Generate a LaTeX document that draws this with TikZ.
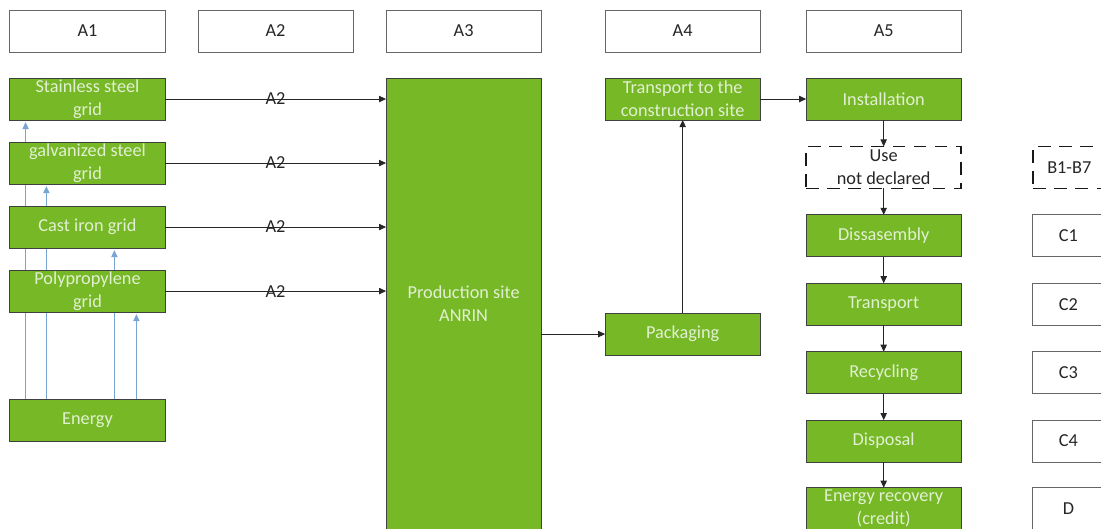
\documentclass[tikz,border=0pt]{standalone}
\usepackage{fontspec}
\setmainfont{Carlito}
\usepackage{tikz}
\usetikzlibrary{
	positioning,
	arrows.meta,
	backgrounds
}
\definecolor{stagegreen}{RGB}{118,184,38}
\definecolor{stagetext}{RGB}{226,240,210}
\definecolor{feedblue}{RGB}{120,165,210}
\tikzset{
	every node/.style={
		font=\fontsize{13}{16.3}\selectfont,
		text=black!85
	},
	stage/.style={
		draw=black!75,fill=stagegreen,text=stagetext,
		minimum width=3.875cm,minimum height=1.05cm,
		inner sep=0pt,outer sep=0pt,align=center,line width=0.7pt
	},
	module/.style={
		draw=black!60,fill=white,
		minimum width=3.875cm,minimum height=1.05cm,
		inner sep=0pt,outer sep=0pt,align=center,line width=0.7pt
	},
	undeclared/.style={
		module,draw=black!90,line width=1.2pt,
		dash pattern=on 9pt off 6pt
	},
	every edge/.append style={
		-{Triangle[length=5pt,width=4.5pt]},
		draw=black!85,line width=0.6pt
	},
	feed/.style={
		draw=feedblue,line width=0.8pt,shorten >=1.5pt
	}
}

\begin{document}
\begin{tikzpicture}[x=0.025cm,y=-0.025cm]
	\useasboundingbox (0,0) rectangle (1101,528);
	\clip (0,0) rectangle (1101,528);
	\draw
		node[module]                     (A1) at (87.5,31) {A1}
		node[module,right=0.825cm of A1] (A2) {A2}
		node[module,right=0.825cm of A2] (A3) {A3}
		node[module,right=1.6cm of A3]   (A4) {A4}
		node[module,right=1.15cm of A4]  (A5) {A5}

		node[stage,below=0.65cm of A1]   (ss) {Stainless steel\\grid}
		node[stage,below=0.55cm of ss]   (gs) {galvanized steel\\grid}
		node[stage,below=0.55cm of gs]   (ci) {Cast iron grid}
		node[stage,below=0.55cm of ci]   (pp) {Polypropylene\\grid}
		node[stage,below=2.175cm of pp]  (en) {Energy}

		node[stage,below=0.65cm of A3,minimum height=11.3cm] (prod) {Production site\\ANRIN}

		node[stage,below=0.65cm of A4]    (site) {Transport to the\\construction site}
		node[stage,below=4.825cm of site] (pack) {Packaging}

		node[stage,below=0.65cm of A5]      (inst) {Installation}
		node[undeclared,below=0.66cm of inst] (use) {Use\\not declared}
		node[stage,below=0.66cm of use]     (dis) {Dissasembly}
		node[stage,below=0.66cm of dis]     (trans) {Transport}
		node[stage,below=0.66cm of trans]   (rec) {Recycling}
		node[stage,below=0.66cm of rec]     (disp) {Disposal}
		node[stage,below=0.64cm of disp]    (erec) {Energy recovery\\(credit)}

		node[undeclared,right=1.8cm of use,minimum width=1.8cm] (B) {B1-B7}
		node[module,right=1.78cm of dis,minimum width=1.8cm]    (C1) {C1}
		node[module,right=1.78cm of trans,minimum width=1.8cm]  (C2) {C2}
		node[module,right=1.78cm of rec,minimum width=1.8cm]    (C3) {C3}
		node[module,right=1.78cm of disp,minimum width=1.8cm]   (C4) {C4}
		node[module,right=1.78cm of erec,minimum width=1.8cm]   (D) {D}

		(ss) edge node {A2} (ss -| prod.west)
		(gs) edge node {A2} (gs -| prod.west)
		(ci) edge node {A2} (ci -| prod.west)
		(pp) edge node {A2} (pp -| prod.west)

		(prod.east |- pack) edge (pack)
		(pack)  edge (site)
		(site)  edge (inst)
		(inst)  edge (use)
		(use)   edge (dis)
		(dis)   edge (trans)
		(trans) edge (rec)
		(rec)   edge (disp)
		(disp)  edge (erec)
	;
	% energy feeds, behind the material boxes
	\begin{pgfonlayer}{background}
		\foreach \dx/\target in {0.39/ss,0.91/gs,2.61/ci,3.16/pp}
			\path ([xshift=\dx cm]en.north west) edge[feed] ([xshift=\dx cm]\target.south west);
	\end{pgfonlayer}
\end{tikzpicture}
\end{document}
